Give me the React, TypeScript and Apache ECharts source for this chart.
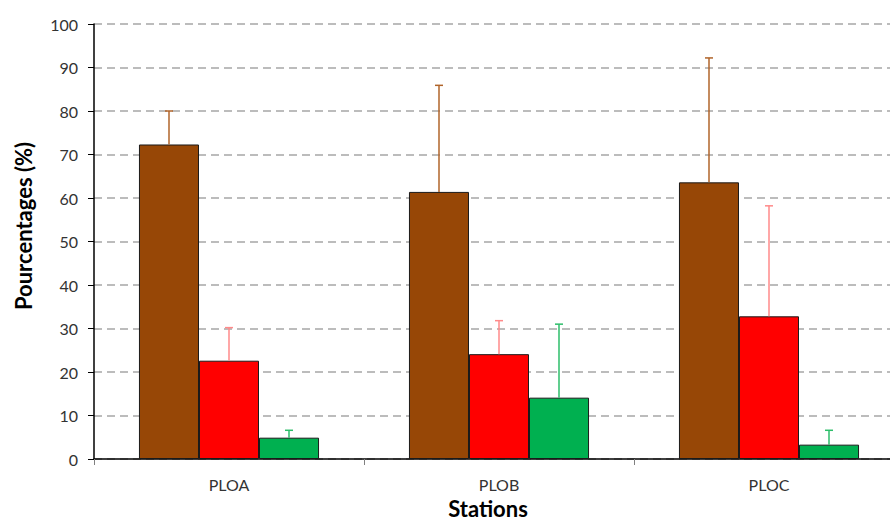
import React, { useEffect, useRef } from "react";
import * as echarts from "echarts";

const categories = ["PLOA", "PLOB", "PLOC"];
const seriesNames = ["Brown", "Red", "Green"];
const brownValues = [72.3, 61.4, 63.6];
const redValues = [22.6, 24.1, 32.8];
const greenValues = [4.9, 14.1, 3.3];
const brownErrTop = [80.0, 85.9, 92.2];
const redErrTop = [30.2, 31.8, 58.2];
const greenErrTop = [6.6, 31.0, 6.6];
const yTicks = [0, 10, 20, 30, 40, 50, 60, 70, 80, 90, 100];

const barColors = ["#974706", "#FF0000", "#00B050"];
const errColors = ["#B0642A", "#FF8A8A", "#2DBE6A"];

export default function App() {
  const ref = useRef<HTMLDivElement>(null);
  useEffect(() => {
    if (!ref.current) return;
    const chart = echarts.init(ref.current, null, { renderer: "svg" });
    const values = [brownValues, redValues, greenValues];
    const errs = [brownErrTop, redErrTop, greenErrTop];
    const font = "Lato, 'Open Sans', sans-serif";

    const barSeries = values.map((vals, i) => ({
      type: "bar",
      name: seriesNames[i],
      data: vals,
      barGap: "0%",
      barCategoryGap: "33.3%",
      itemStyle: { color: barColors[i], borderColor: "#1a1a1a", borderWidth: 1 },
      z: 2,
    }));

    const errSeries = errs.map((tops, i) => ({
      type: "custom",
      name: seriesNames[i] + " err",
      data: tops.map((t, j) => [j, values[i][j], t]),
      z: 3,
      renderItem: (params: any, api: any) => {
        const band = api.size([1, 0])[0];
        const off = (i - 1) * band * (2 / 9);
        const base = api.coord([api.value(0), api.value(1)]);
        const top = api.coord([api.value(0), api.value(2)]);
        const x = base[0] + off;
        const style = { stroke: errColors[i], lineWidth: 1.5 };
        return {
          type: "group",
          children: [
            { type: "line", shape: { x1: x, y1: base[1], x2: x, y2: top[1] }, style },
            { type: "line", shape: { x1: x - 4, y1: top[1], x2: x + 4, y2: top[1] }, style },
          ],
        };
      },
    }));

    chart.setOption({
      animation: false,
      grid: { left: 94, top: 24, bottom: 63, right: 0, containLabel: false },
      xAxis: {
        type: "category",
        data: categories,
        axisLine: { lineStyle: { color: "#000", width: 1.5 } },
        axisTick: { show: true, length: 6, lineStyle: { color: "#808080" } },
        axisLabel: { color: "#333", fontSize: 16, fontFamily: font, margin: 17 },
      },
      yAxis: {
        type: "value",
        min: yTicks[0],
        max: yTicks[yTicks.length - 1],
        interval: 10,
        axisLine: { show: true, lineStyle: { color: "#000", width: 1.5 } },
        axisTick: { show: true, length: 6, lineStyle: { color: "#000" } },
        axisLabel: { color: "#333", fontSize: 16, fontFamily: font, margin: 16 },
        splitLine: { lineStyle: { color: "#A6A6A6", type: [8, 5], width: 1.5 } },
      },
      graphic: [
        {
          type: "text",
          x: 23,
          y: 226,
          rotation: Math.PI / 2,
          style: {
            text: "Pourcentages (%)",
            font: "bold 22px " + font,
            fill: "#000",
            align: "center",
            verticalAlign: "middle",
          },
        },
        {
          type: "text",
          x: 488,
          y: 508,
          style: {
            text: "Stations",
            font: "bold 22px " + font,
            fill: "#000",
            align: "center",
            verticalAlign: "middle",
          },
        },
      ],
      series: [...barSeries, ...errSeries],
    });
    return () => chart.dispose();
  }, []);
  return (
    <div style={{ width: 890, height: 522, position: "absolute", left: 0, top: 0, overflow: "hidden" }}>
      <div ref={ref} style={{ width: 904, height: 522 }} />
    </div>
  );
}
